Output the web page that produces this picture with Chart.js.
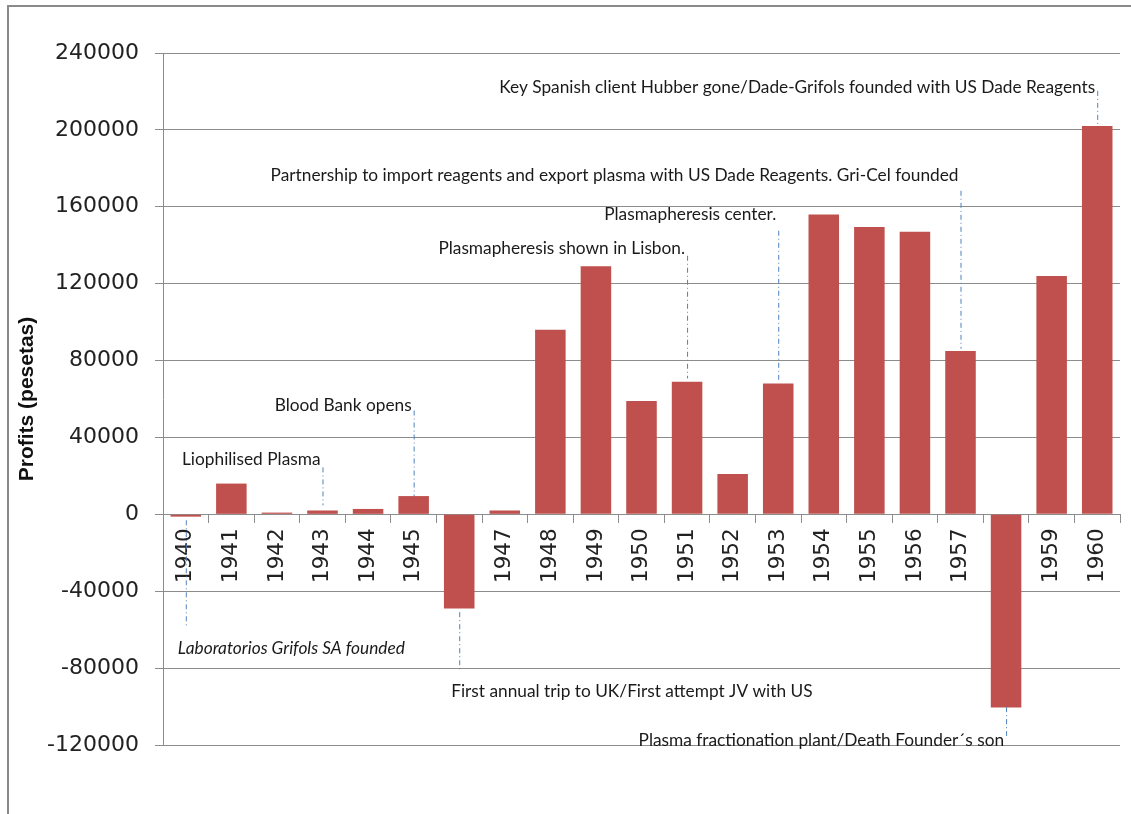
<!DOCTYPE html>
<html>
<head>
<meta charset="utf-8">
<title>Profits (pesetas) 1940-1960</title>
<script src="https://cdn.jsdelivr.net/npm/chart.js@4.4.1/dist/chart.umd.min.js"></script>
<style>
  html, body { margin: 0; padding: 0; background: #fff; overflow: hidden; }
  #wrap { position: relative; width: 1131px; height: 814px; }
</style>
</head>
<body>
<div id="wrap"><canvas id="profitsChart"></canvas></div>
<script>
// --- Data ---
const years = ['1940', '1941', '1942', '1943', '1944', '1945', '1946', '1947', '1948', '1949', '1950',
               '1951', '1952', '1953', '1954', '1955', '1956', '1957', '1958', '1959', '1960'];
const profits = [-1200, 16000, 900, 2000, 2800, 9500, -49000, 2000, 96000, 129000, 59000,
                 69000, 21000, 68000, 156000, 149500, 147000, 85000, -100500, 124000, 202000];
const yTicks = [-120000, -80000, -40000, 0, 40000, 80000, 120000, 160000, 200000, 240000];

// event notes: text, year it points at, value of text line, leader line from/to (in pesetas)
const noteTexts = [
  'Liophilised Plasma',
  'Blood Bank opens',
  'Laboratorios Grifols SA founded',
  'First annual trip to UK/First attempt JV with US',
  'Plasmapheresis shown in Lisbon.',
  'Plasmapheresis center.',
  'Partnership to import reagents and export plasma with US Dade Reagents. Gri-Cel founded',
  'Key Spanish client Hubber gone/Dade-Grifols founded with US Dade Reagents',
  'Plasma fractionation plant/Death Founder\u00b4s son'
];
const noteYears = ['1943', '1945', '1940', '1946', '1951', '1953', '1957', '1960', '1958'];
const noteTextValues = [28600, 56600, -69600, -92000, 138200, 155900, 176100, 222300, -117400];
const noteLineFrom = [24400, 54000, -3100, -50900, 134500, 147500, 168300, 220300, -100300];
const noteLineTo = [4700, 9400, -58700, -82100, 70700, 69600, 86200, 203100, -115300];

// --- Styles ---
const barColor = '#C0504D';
const gridColor = '#8c8c8c';
const noteLineColor = '#4f81bd';
const noteFont = '17.3px Lato, "Open Sans", sans-serif';
const noteAlign = ['right', 'right', 'left', 'left', 'right', 'right', 'right', 'right', 'right'];
const noteItalic = [false, false, true, false, false, false, false, false, false];

const frameBorder = {
    id: 'frameBorder',
    beforeDraw(chart) {
        const ctx = chart.ctx;
        ctx.save();
        ctx.strokeStyle = '#8a8a8a';
        ctx.lineWidth = 2;
        ctx.beginPath();
        ctx.moveTo(8, chart.height + 5);
        ctx.lineTo(8, 6);
        ctx.lineTo(chart.width + 5, 6);
        ctx.stroke();
        ctx.restore();
    }
};

const eventNotes = {
    id: 'eventNotes',
    afterDraw(chart) {
        const ctx = chart.ctx;
        const xs = chart.scales.x, ys = chart.scales.y;
        ctx.save();
        noteTexts.forEach((txt, i) => {
            const x = xs.getPixelForValue(years.indexOf(noteYears[i]));
            // leader line, dash-dot
            ctx.strokeStyle = noteLineColor;
            ctx.lineWidth = 1;
            ctx.setLineDash([5, 3, 1, 3]);
            ctx.beginPath();
            ctx.moveTo(x + 0.5, ys.getPixelForValue(noteLineFrom[i]));
            ctx.lineTo(x + 0.5, ys.getPixelForValue(noteLineTo[i]));
            ctx.stroke();
            ctx.setLineDash([]);
            // text
            ctx.fillStyle = '#1a1a1a';
            ctx.font = (noteItalic[i] ? 'italic ' : '') + noteFont;
            ctx.textBaseline = 'middle';
            ctx.textAlign = noteAlign[i];
            const tx = noteAlign[i] === 'right' ? x - 2 : x - 8;
            ctx.fillText(txt, tx, ys.getPixelForValue(noteTextValues[i]));
        });
        ctx.restore();
    }
};

const ctx = document.getElementById('profitsChart').getContext('2d');
const profitsChart = new Chart(ctx, {
    type: 'bar',
    data: {
        labels: years,
        datasets: [{
            label: 'Profits',
            data: profits,
            backgroundColor: barColor,
            borderWidth: 0,
            barPercentage: 0.67,
            categoryPercentage: 1.0
        }]
    },
    options: {
        responsive: true,
        maintainAspectRatio: false,
        animation: false,
        layout: { padding: { left: 0, top: 53, right: 11, bottom: 69 } },
        plugins: {
            legend: { display: false },
            tooltip: { enabled: false }
        },
        scales: {
            x: {
                position: { y: 0 },
                z: 1,
                offset: true,
                grid: { display: true, drawOnChartArea: false, drawTicks: true, tickLength: 8, color: gridColor, offset: true },
                border: { display: true, color: gridColor, width: 1 },
                ticks: {
                    autoSkip: false,
                    minRotation: 90,
                    maxRotation: 90,
                    padding: 6,
                    color: '#222',
                    font: { family: '"DejaVu Sans", sans-serif', size: 21.5 }
                }
            },
            y: {
                min: -120000,
                max: 240000,
                afterBuildTicks: (scale) => { scale.ticks = yTicks.map(v => ({ value: v })); },
                afterFit: (scale) => { scale.width = 163; },
                grid: { color: gridColor, lineWidth: 1, drawTicks: true, tickLength: 8 },
                border: { display: true, color: gridColor, width: 1 },
                ticks: {
                    padding: 16,
                    color: '#222',
                    font: { family: '"DejaVu Sans", sans-serif', size: 22 },
                    callback: (v) => String(v)
                },
                title: {
                    display: true,
                    text: 'Profits (pesetas)',
                    color: '#111',
                    padding: { top: 15, bottom: 0 },
                    font: { family: '"Liberation Sans", Arial, sans-serif', size: 21, weight: 'bold' }
                }
            }
        }
    },
    plugins: [frameBorder, eventNotes]
});
</script>
</body>
</html>
